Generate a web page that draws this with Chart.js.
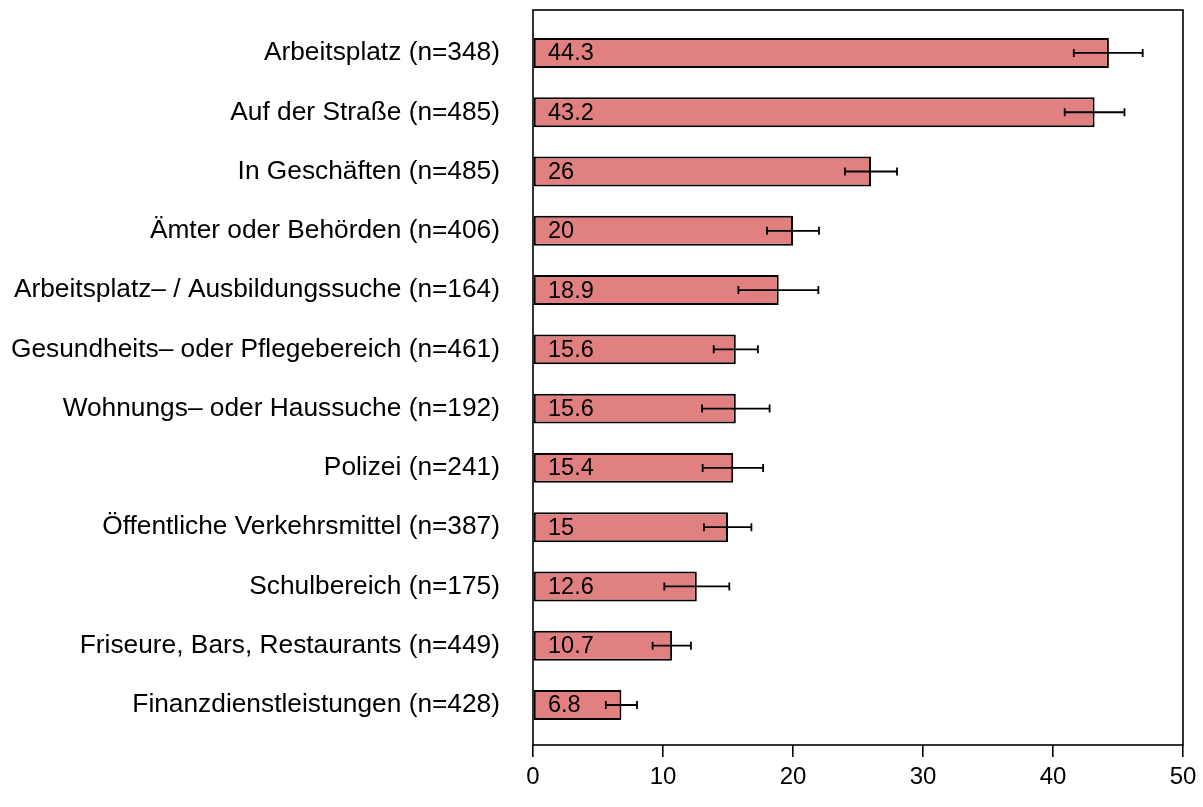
<!DOCTYPE html>
<html>
<head>
<meta charset="utf-8">
<script src="https://cdn.jsdelivr.net/npm/chart.js@4.4.1/dist/chart.umd.min.js"></script>
<style>
  html, body { margin: 0; padding: 0; background: #fff; }
  #wrap { width: 1203px; height: 807px; }
</style>
</head>
<body>
<div id="wrap"><canvas id="chart"></canvas></div>
<script>
// Kategorien (von oben nach unten)
const categories = [
  'Arbeitsplatz (n=348)',
  'Auf der Straße (n=485)',
  'In Geschäften (n=485)',
  'Ämter oder Behörden (n=406)',
  'Arbeitsplatz– / Ausbildungssuche (n=164)',
  'Gesundheits– oder Pflegebereich (n=461)',
  'Wohnungs– oder Haussuche (n=192)',
  'Polizei (n=241)',
  'Öffentliche Verkehrsmittel (n=387)',
  'Schulbereich (n=175)',
  'Friseure, Bars, Restaurants (n=449)',
  'Finanzdienstleistungen (n=428)'
];
const values = [44.3, 43.2, 26, 20, 18.9, 15.6, 15.6, 15.4, 15, 12.6, 10.7, 6.8];
const lower  = [41.6, 40.9, 24.0, 18.0, 15.8, 13.9, 13.0, 13.05, 13.15, 10.1, 9.2, 5.6];
const upper  = [46.9, 45.5, 28.0, 22.0, 21.95, 17.3, 18.2, 17.7, 16.8, 15.1, 12.15, 8.0];
const xTicks = [0, 10, 20, 30, 40, 50];

const FONT = '"Liberation Sans", Arial, sans-serif';
Chart.defaults.font.family = FONT;
Chart.defaults.color = '#000';

// Rahmen, Fehlerbalken und Werte in den Balken
const extras = {
  id: 'extras',
  afterDatasetsDraw(chart) {
    const { ctx, chartArea: a, scales: { x, y } } = chart;
    ctx.save();
    ctx.strokeStyle = '#000';
    ctx.lineWidth = 1.8;
    // Fehlerbalken
    values.forEach((v, i) => {
      const cy = y.getPixelForValue(i);
      const x1 = x.getPixelForValue(lower[i]);
      const x2 = x.getPixelForValue(upper[i]);
      ctx.beginPath();
      ctx.moveTo(x1, cy); ctx.lineTo(x2, cy);
      ctx.moveTo(x1, cy - 4); ctx.lineTo(x1, cy + 4);
      ctx.moveTo(x2, cy - 4); ctx.lineTo(x2, cy + 4);
      ctx.stroke();
    });
    // Werte
    ctx.fillStyle = '#000';
    ctx.font = '23.5px ' + FONT;
    ctx.textAlign = 'left';
    ctx.textBaseline = 'middle';
    values.forEach((v, i) => {
      ctx.fillText(String(v), x.getPixelForValue(0) + 15, y.getPixelForValue(i) + 1);
    });
    // Box
    ctx.lineWidth = 1.6;
    ctx.strokeRect(a.left, a.top, a.right - a.left, a.bottom - a.top);
    ctx.restore();
  }
};

new Chart(document.getElementById('chart'), {
  type: 'bar',
  data: {
    datasets: [{
      data: values.map((v, i) => ({ x: v, y: i })),
      backgroundColor: 'rgb(224,128,128)',
      borderColor: '#000',
      borderWidth: 2,
      borderSkipped: false,
      barPercentage: 0.505,
      categoryPercentage: 1
    }]
  },
  options: {
    indexAxis: 'y',
    responsive: true,
    maintainAspectRatio: false,
    animation: false,
    layout: { padding: { left: 0, right: 20, top: 10, bottom: 0 } },
    plugins: { legend: { display: false }, tooltip: { enabled: false } },
    scales: {
      x: {
        type: 'linear',
        position: 'bottom',
        min: 0,
        max: 50,
        offset: false,
        afterBuildTicks: s => { s.ticks = xTicks.map(v => ({ value: v })); },
        afterFit: s => { s.height = 62; s.paddingLeft = 0; s.paddingRight = 0; },
        grid: { drawOnChartArea: false, drawTicks: true, tickLength: 12, color: '#000', lineWidth: 1.6 },
        border: { display: false },
        ticks: { padding: 6, maxRotation: 0, font: { size: 24 } }
      },
      y: {
        type: 'linear',
        reverse: true,
        min: -0.725,
        max: 11.675,
        offset: false,
        grace: 0,
        afterBuildTicks: s => { s.ticks = categories.map((c, i) => ({ value: i })); },
        afterFit: s => { s.width = 533; s.paddingTop = 0; s.paddingBottom = 0; },
        grid: { display: false, drawTicks: false },
        border: { display: false },
        ticks: { padding: 33, callback: v => categories[v], font: { size: 26.3 } }
      }
    }
  },
  plugins: [extras]
});
</script>
</body>
</html>
